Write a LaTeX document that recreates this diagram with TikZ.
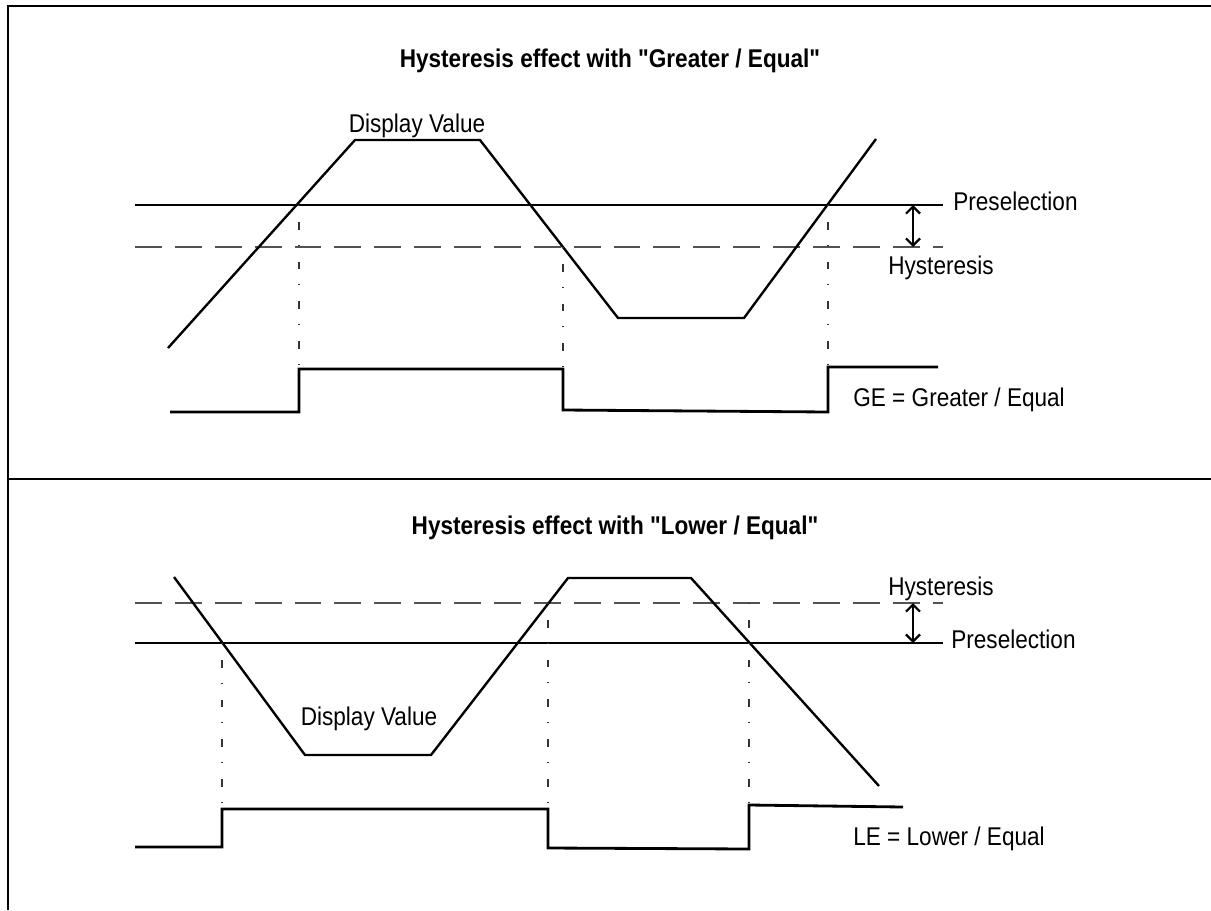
\documentclass[tikz,border=0pt]{standalone}
\usepackage{fontspec}
\setmainfont{Liberation Sans}[FakeStretch=0.88, Ligatures=TeXOff]
\usetikzlibrary{arrows.meta}

\begin{document}
\begin{tikzpicture}[x=0.02cm,y=-0.02cm,
		frame/.style={line width=1.3pt},
		trace/.style={line width=1.35pt, line join=miter},
		limit/.style={line width=1.35pt},
		hyst/.style={line width=1pt, black!68, dash pattern=on 15.3pt off 7.4pt},
		guide/.style={line width=0.6pt, black!80, dash pattern=on 0.6pt off 9pt on 4.5pt off 8.5pt},
		sig/.style={line width=1.6pt},
		gap/.style={line width=0.6pt, {Straight Barb[length=4pt,width=8pt,line width=1.3pt]}-{Straight Barb[length=4pt,width=8pt,line width=1.3pt]}},
		lbl/.style={font=\fontsize{14.6}{17}\selectfont, inner sep=0pt},
		ttl/.style={font=\fontsize{14.6}{17}\selectfont\bfseries, inner sep=0pt}]
				\useasboundingbox (0,0) rectangle (1211,910);
				
				\draw[frame] (8,910) -- (8,5.7) -- (1211,5.7);
				\draw[frame] (8,479) -- (1211,479);
				
				% Greater / Equal
				\node[ttl, anchor=base] (titleGE) at (610,67) {Hysteresis effect with "Greater / Equal"};
				\draw[limit] (135,205) -- (943,205);
				\draw[hyst] (135,247) -- (943,247);
				\draw[trace] (168,348) -- (355,140) -- (480,140) -- (618,318) -- (744,318) -- (876,139);
				\node[lbl, anchor=base] (valGE) at (417,132) {Display Value};
				\node[lbl, anchor=base west] (preGE) at (953,210.7) {Preselection};
				\node[lbl, anchor=base west] (hysGE) at (888,274) {Hysteresis};
				
				\coordinate (gapGEa) at (913,205);
				\coordinate (gapGEb) at (913,247);
				\draw[gap] (gapGEa) -- (gapGEb);
				
				\draw[guide] (299,205) -- (299,369);
				\draw[guide] (563,247) -- (563,369);
				\draw[guide] (828,205) -- (828,367);
				
				\draw[sig] (170,412) -- (299,412) -- (299,369) -- (563,369) -- (563,410) -- (828,412) -- (828,367) -- (938,367);
				\node[lbl, anchor=base west] (outGE) at (853,406) {GE = Greater / Equal};
				
				% Lower / Equal
				\node[ttl, anchor=base] (titleLE) at (615,534.3) {Hysteresis effect with "Lower / Equal"};
				\draw[hyst] (135,603) -- (943,603);
				\draw[limit] (135,643) -- (943,643);
				\draw[trace] (174,577) -- (305,755) -- (431,755) -- (568,578) -- (691,578) -- (879,786);
				\node[lbl, anchor=base] (valLE) at (369,725) {Display Value};
				\node[lbl, anchor=base west] (hysLE) at (888,595) {Hysteresis};
				\node[lbl, anchor=base west] (preLE) at (951,648) {Preselection};
				
				\coordinate (gapLEa) at (913,603);
				\coordinate (gapLEb) at (913,643);
				\draw[gap] (gapLEa) -- (gapLEb);
				
				\draw[guide] (222,643) -- (222,809);
				\draw[guide] (548,603) -- (548,809);
				\draw[guide] (749,603) -- (749,805);
				
				\draw[sig] (135,847) -- (222,847) -- (222,809) -- (548,809) -- (548,848) -- (749,849) -- (749,805) -- (903,807);
				\node[lbl, anchor=base west] (outLE) at (853,845) {LE = Lower / Equal};
			\end{tikzpicture}
\end{document}
